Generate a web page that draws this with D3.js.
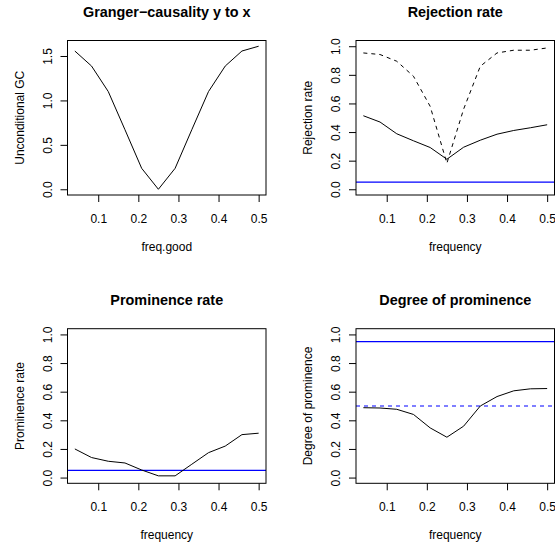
<!DOCTYPE html>
<html>
<head>
<meta charset="utf-8">
<script src="https://cdn.jsdelivr.net/npm/d3@7"></script>
<style>
  html, body { margin: 0; padding: 0; background: #fff; }
  svg { display: block; }
  text { font-family: "Liberation Sans", Arial, Helvetica, sans-serif; fill: #000; }
</style>
</head>
<body>
<svg id="chart" width="555" height="547"></svg>
<script>
// ---- data ----
const freq = [0.0417, 0.0833, 0.125, 0.1667, 0.2083, 0.25, 0.2917, 0.3333, 0.375, 0.4167, 0.4583, 0.5];
const grangerGC = [1.556, 1.387, 1.10, 0.67, 0.236, 0.0, 0.236, 0.67, 1.10, 1.387, 1.556, 1.61];
const rejectionSolid = [0.514, 0.47, 0.388, 0.339, 0.292, 0.21, 0.294, 0.343, 0.385, 0.411, 0.43, 0.451];
const rejectionDashed = [0.953, 0.942, 0.895, 0.79, 0.58, 0.182, 0.56, 0.86, 0.953, 0.972, 0.972, 0.988];
const prominenceRate = [0.20, 0.14, 0.114, 0.102, 0.053, 0.012, 0.012, 0.093, 0.174, 0.22, 0.30, 0.31];
const degreeProminence = [0.488, 0.486, 0.477, 0.441, 0.347, 0.282, 0.359, 0.50, 0.566, 0.606, 0.62, 0.622];

const xTicks = [0.1, 0.2, 0.3, 0.4, 0.5];
const gcTicks = [0.0, 0.5, 1.0, 1.5];
const rateTicks = [0.0, 0.2, 0.4, 0.6, 0.8, 1.0];

const titles = ["Granger\u2212causality y to x", "Rejection rate", "Prominence rate", "Degree of prominence"];
const xLabels = ["freq.good", "frequency", "frequency", "frequency"];
const yLabels = ["Unconditional GC", "Rejection rate", "Prominence rate", "Degree of prominence"];

// reference (horizontal) lines: [value, dashed]
const refRejection = [[0.05, false]];
const refProminence = [[0.05, false]];
const refDegree = [[0.95, false], [0.5, true]];

// ---- layout ----
const boxes = [
  {x0: 67.5, x1: 266, y0: 40.5, y1: 195},
  {x0: 356, x1: 554.5, y0: 40.5, y1: 195},
  {x0: 67.5, x1: 266, y0: 328.7, y1: 483.3},
  {x0: 356, x1: 554.5, y0: 328.7, y1: 483.3}
];

const svg = d3.select("#chart");
svg.append("rect").attr("width", 555).attr("height", 547).attr("fill", "#fff");

function padExtent(arr) {
  const [a, b] = d3.extent(arr);
  const p = (b - a) * 0.04;
  return [a - p, b + p];
}

const xDomain = padExtent(freq);

const panels = [
  {series: [{vals: grangerGC, dashed: false}], yDomain: padExtent(grangerGC), yTicks: gcTicks, refs: []},
  {series: [{vals: rejectionDashed, dashed: true}, {vals: rejectionSolid, dashed: false}], yDomain: padExtent([0, 1]), yTicks: rateTicks, refs: refRejection},
  {series: [{vals: prominenceRate, dashed: false}], yDomain: padExtent([0, 1]), yTicks: rateTicks, refs: refProminence},
  {series: [{vals: degreeProminence, dashed: false}], yDomain: padExtent([0, 1]), yTicks: rateTicks, refs: refDegree}
];

panels.forEach((pn, i) => {
  const b = boxes[i];
  const x = d3.scaleLinear().domain(xDomain).range([b.x0, b.x1]);
  const y = d3.scaleLinear().domain(pn.yDomain).range([b.y1, b.y0]);
  const g = svg.append("g");

  const clipId = "clip" + i;
  svg.append("clipPath").attr("id", clipId)
    .append("rect").attr("x", b.x0).attr("y", b.y0).attr("width", b.x1 - b.x0).attr("height", b.y1 - b.y0);

  // reference lines
  pn.refs.forEach(([v, dashed]) => {
    g.append("line")
      .attr("clip-path", `url(#${clipId})`)
      .attr("x1", b.x0).attr("x2", b.x1)
      .attr("y1", y(v)).attr("y2", y(v))
      .attr("stroke", "#0000ff").attr("stroke-width", 1.1)
      .attr("stroke-dasharray", dashed ? "4,4" : null);
  });

  // series
  const line = d3.line().x((d, k) => x(freq[k])).y(d => y(d));
  pn.series.forEach(s => {
    g.append("path")
      .attr("d", line(s.vals))
      .attr("fill", "none")
      .attr("stroke", "#000").attr("stroke-width", 1)
      .attr("stroke-linejoin", "round")
      .attr("stroke-dasharray", s.dashed ? "4,4" : null);
  });

  // box
  g.append("rect")
    .attr("x", b.x0).attr("y", b.y0)
    .attr("width", b.x1 - b.x0).attr("height", b.y1 - b.y0)
    .attr("fill", "none").attr("stroke", "#000").attr("stroke-width", 1);

  // x axis
  const xAxis = d3.axisBottom(x).tickValues(xTicks).tickSize(7).tickPadding(0).tickFormat(d3.format(".1f"));
  const gx = g.append("g").attr("transform", `translate(0,${b.y1})`).call(xAxis);
  gx.select(".domain").remove();
  gx.selectAll(".tick line").attr("stroke", "#000");
  gx.selectAll(".tick text")
    .attr("y", 27.5).attr("dy", null)
    .style("font-size", "12px")
    .style("font-family", '"Liberation Sans", Arial, sans-serif');

  // y axis
  const yAxis = d3.axisLeft(y).tickValues(pn.yTicks).tickSize(7).tickPadding(0).tickFormat(d3.format(".1f"));
  const gy = g.append("g").attr("transform", `translate(${b.x0},0)`).call(yAxis);
  gy.select(".domain").remove();
  gy.selectAll(".tick line").attr("stroke", "#000");
  gy.selectAll(".tick text")
    .attr("x", null).attr("dy", null)
    .attr("text-anchor", "middle")
    .attr("transform", "translate(-16,0) rotate(-90)")
    .style("font-size", "12px")
    .style("font-family", '"Liberation Sans", Arial, sans-serif');

  // title
  g.append("text")
    .attr("x", (b.x0 + b.x1) / 2).attr("y", b.y0 - 24)
    .attr("text-anchor", "middle")
    .style("font-size", "14.4px").style("font-weight", "bold")
    .text(titles[i]);

  // x label
  g.append("text")
    .attr("x", (b.x0 + b.x1) / 2).attr("y", b.y1 + 56)
    .attr("text-anchor", "middle")
    .style("font-size", "12px")
    .text(xLabels[i]);

  // y label
  g.append("text")
    .attr("transform", `translate(${b.x0 - 44},${(b.y0 + b.y1) / 2}) rotate(-90)`)
    .attr("text-anchor", "middle")
    .style("font-size", "12px")
    .text(yLabels[i]);
});
</script>
</body>
</html>
